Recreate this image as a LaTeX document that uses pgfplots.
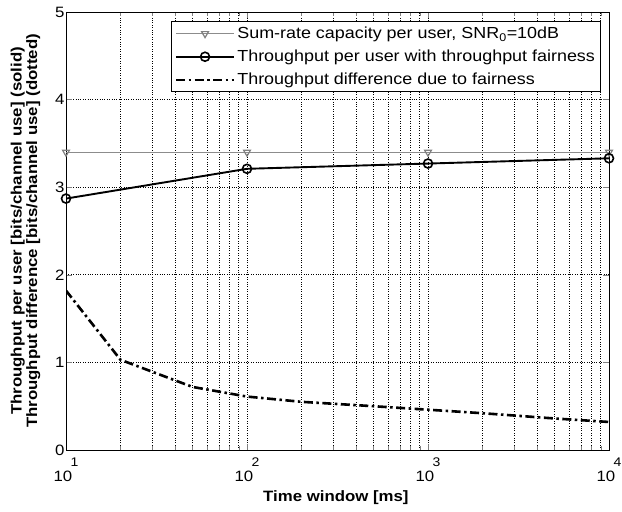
\documentclass[border=0pt]{standalone}
\usepackage{fontspec}
\setmainfont{Liberation Sans}[FakeStretch=1.12]
\usepackage{pgfplots}
\pgfplotsset{compat=1.18}
\usetikzlibrary{calc}

\newcommand{\tenpow}[1]{10\kern-1.5pt\raisebox{15pt}{\fontsize{12.5}{12.5}\selectfont #1}}

\begin{document}
\begin{tikzpicture}
\begin{semilogxaxis}[
    name=ax,
    scale only axis,
    width=543pt, height=438pt,
    xmin=10, xmax=10000,
    ymin=0, ymax=5,
    xtick={10,100,1000,10000},
    xticklabels={\tenpow{1},\tenpow{2},\tenpow{3},\tenpow{4}},
    ytick={0,1,2,3,4,5},
    /pgf/number format/assume math mode=true,
    ticklabel style={font=\fontsize{15}{17}\selectfont},
    xticklabel style={anchor=base, yshift=-31pt},
    yticklabel style={xshift=2pt},
    grid=both,
    major grid style={dotted, black, line width=0.7pt},
    minor grid style={dotted, black, line width=0.7pt},
    axis line style={line width=0.9pt},
    major tick length=6pt, minor tick length=4pt,
    xlabel={Time window [ms]},
    xlabel style={font=\bfseries\fontsize{15}{17}\selectfont,
        at={(axis description cs:0.497,-0.1096)}, anchor=center},
    ylabel={Throughput per user [bits/channel use] (solid)\\Throughput difference [bits/channel use] (dotted)},
    ylabel style={font=\bfseries\fontsize{15}{15.5}\selectfont, align=center,
        at={(axis description cs:-0.0746,0.5)}, anchor=center},
    legend style={at={(0.985,0.979)}, anchor=north east, draw=black, fill=white,
        line width=0.8pt,
        font=\fontsize{16}{18}\selectfont, row sep=6pt, inner sep=3.5pt,
        nodes={inner sep=2pt}},
    legend cell align=left,
    legend image code/.code={\draw[mark repeat=2,mark phase=2,#1] plot coordinates {(0pt,0pt) (29pt,0pt) (58pt,0pt)};},
]
\addplot[black!45, line width=1.2pt, mark=triangle, mark size=4pt,
    mark options={rotate=180, solid, black!50, line width=1.2pt}]
    coordinates {(10,3.40) (100,3.40) (1000,3.40) (10000,3.40)};
\addlegendentry{Sum-rate capacity per user, SNR\textsubscript{0}=10dB}
\addplot[black, line width=1.9pt, mark=o, mark size=4.5pt,
    mark options={solid, line width=1.6pt}]
    coordinates {(10,2.87) (100,3.21) (1000,3.27) (10000,3.33)};
\addlegendentry{Throughput per user with throughput fairness}
\addplot[black, line width=2.6pt, dash pattern=on 9pt off 3.5pt on 2.5pt off 3.5pt]
    coordinates {(10,1.82) (20,1.03) (50,0.72) (100,0.61) (200,0.55) (500,0.50)
                 (1000,0.46) (2000,0.42) (5000,0.36) (10000,0.32)};
\addlegendentry{Throughput difference due to fairness}
\end{semilogxaxis}
\pgfresetboundingbox
\path ($(ax.south west)+(-66pt,-61pt)$) rectangle ($(ax.north east)+(13pt,12pt)$);
\end{tikzpicture}
\end{document}
